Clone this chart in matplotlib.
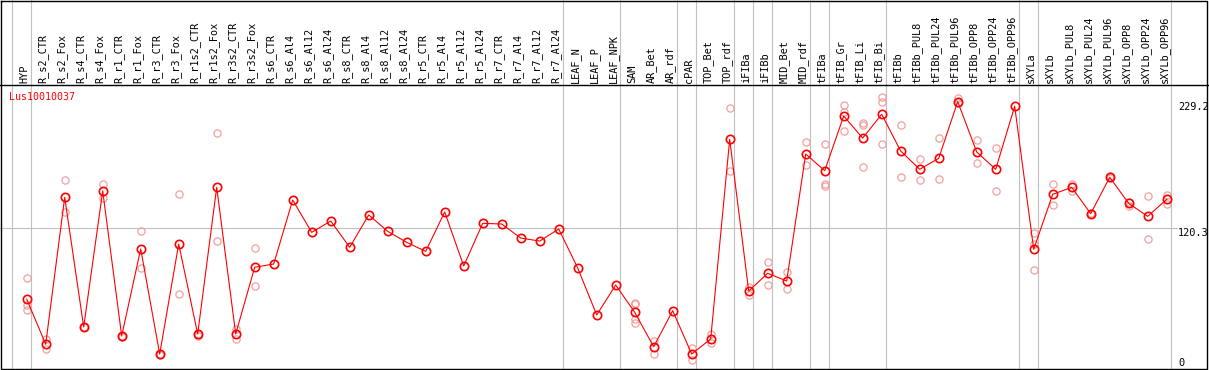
import matplotlib
matplotlib.use("Agg")
import matplotlib.pyplot as plt

gene = "Lus10010037"

samples = ["HYP", "R_s2_CTR", "R_s2_Fox", "R_s4_CTR", "R_s4_Fox", "R_r1_CTR", "R_r1_Fox",
           "R_r3_CTR", "R_r3_Fox", "R_r1s2_CTR", "R_r1s2_Fox", "R_r3s2_CTR", "R_r3s2_Fox",
           "R_s6_CTR", "R_s6_Al4", "R_s6_Al12", "R_s6_Al24", "R_s8_CTR", "R_s8_Al4",
           "R_s8_Al12", "R_s8_Al24", "R_r5_CTR", "R_r5_Al4", "R_r5_Al12", "R_r5_Al24",
           "R_r7_CTR", "R_r7_Al4", "R_r7_Al12", "R_r7_Al24", "LEAF_N", "LEAF_P", "LEAF_NPK",
           "SAM", "AR_Bet", "AR_rdf", "cPAR", "TOP_Bet", "TOP_rdf", "iFIBa", "iFIBb",
           "MID_Bet", "MID_rdf", "tFIBa", "tFIB_Gr", "tFIB_Li", "tFIB_Bi", "tFIBb",
           "tFIBb_PUL8", "tFIBb_PUL24", "tFIBb_PUL96", "tFIBb_OPP8", "tFIBb_OPP24",
           "tFIBb_OPP96", "sXYLa", "sXYLb", "sXYLb_PUL8", "sXYLb_PUL24", "sXYLb_PUL96",
           "sXYLb_OPP8", "sXYLb_OPP24", "sXYLb_OPP96"]

means = [59, 20, 146.7, 34.9, 152.2, 27.2, 102.2, 11.6, 106.5, 28.9,
         155.3, 28.9, 86.4, 89.2, 144.4, 116.5, 126.3, 103.6, 131.5, 117.4,
         107.9, 100.1, 134.1, 87.5, 124.3, 123.7, 111.6, 109, 119.4, 85.8,
         45.3, 71.1, 47.6, 17.9, 49, 11.6, 24.6, 196.7, 65.9, 81.2,
         74.6, 184, 169.7, 216.8, 197.8, 218.3, 186.6, 170.9, 180.3, 229.2,
         185.8, 170.9, 225.2, 101.9, 149.3, 155.3, 132.6, 164, 141.5, 130.3,
         145]

# individual replicates (empty where they sit under the mean marker)
replicates = [[77, 54, 50], [25, 16], [162, 134], [35, 35], [158, 146], [27, 26],
              [118, 86], [11, 12], [150, 63], [29, 27], [202, 109], [33, 25], [103, 70],
              [], [], [], [], [], [], [], [], [], [], [], [], [], [], [], [],
              [], [], [],
              [56, 54.5, 42, 38], [23, 11.4], [], [17, 6.5], [29, 21], [224, 169],
              [69, 62.5], [91, 71], [82, 68], [194, 175],
              [193, 158, 156.5], [226, 220, 204], [211, 209, 173], [233, 229, 193],
              [209, 164], [179.5, 162], [198, 162.5], [232, 228], [196, 176], [189, 152], [],
              [116, 106.5, 84], [158, 140], [158, 152], [133, 132], [165, 163],
              [143, 139], [148, 111], [149, 141]]

# index of the last sample in each group (-1 = left edge)
group_ends = [-1, 0, 28, 31, 34, 35, 37, 38, 39, 41, 42, 45, 52, 53, 60]

scale_labels = [229.2, 120.3, 0]
ref_line = 120.3

# pixel layout of the original image
W, H = 1209, 370
x0, dx = 26.7, 19.0     # pixel column of first sample, spacing
y0, dy = 367.5, 1.16    # pixel row of value 0, pixels per unit
hdr_row = 85

fig = plt.figure(figsize=(W / 100, H / 100), dpi=100)
ax = fig.add_axes([0, 0, 1, 1])
ax.set_xlim(-x0 / dx, (W - x0) / dx)
ax.set_ylim(-(H - y0) / dy, y0 / dy)
ax.axis("off")

font = dict(family="DejaVu Sans Mono", fontsize=7.4)
grey = "#c0c0c0"

# group separators over full height
for e in group_ends:
    ax.plot([e + 4 / dx] * 2, [0, 1], color=grey, lw=0.8,
            transform=ax.get_xaxis_transform(), clip_on=False, zorder=1)

# reference line
ax.plot([-x0 / dx, (1177 - x0) / dx], [ref_line, ref_line], color=grey, lw=0.8, zorder=1)

# frame + header separator
ax.plot([0.6 / W, 1 - 2 / W, 1 - 2 / W, 0.6 / W, 0.6 / W],
        [1 - 0.6 / H, 1 - 0.6 / H, 1.2 / H, 1.2 / H, 1 - 0.6 / H],
        color="black", lw=1.0, transform=ax.transAxes, clip_on=False, zorder=5)
ax.plot([0, 1], [1 - hdr_row / H] * 2, color="black", lw=1.0,
        transform=ax.transAxes, clip_on=False, zorder=5)

# replicates
for i, vals in enumerate(replicates):
    if vals:
        ax.plot([i] * len(vals), vals, ls="none", marker="o", ms=5.2,
                mfc="none", mec="#f0a0a0", mew=0.9, zorder=2)

# mean profile
xs = list(range(len(samples)))
ax.plot(xs, means, color="red", lw=0.8, zorder=3)
ax.plot(xs, means, ls="none", marker="o", ms=6, mfc="none", mec="red", mew=1.2, zorder=4)

# sample labels in the header
for i, name in enumerate(samples):
    ax.text(i - 2.5 / dx, 1 - 83 / H, name, rotation=90, ha="center", va="bottom",
            transform=ax.get_xaxis_transform(), color="black", **font)

# scale labels at the right
for k, v in enumerate(scale_labels):
    ax.text((1178 - x0) / dx, v, f"{v:g}", ha="left",
            va="bottom" if k == len(scale_labels) - 1 else "top", color="black", **font)

ax.text(9.3 / W, 1 - 97 / H, gene, color="red", ha="left", va="center",
        transform=ax.transAxes, family="DejaVu Sans Mono", fontsize=7.2)

fig.savefig("out.png", dpi=100)
